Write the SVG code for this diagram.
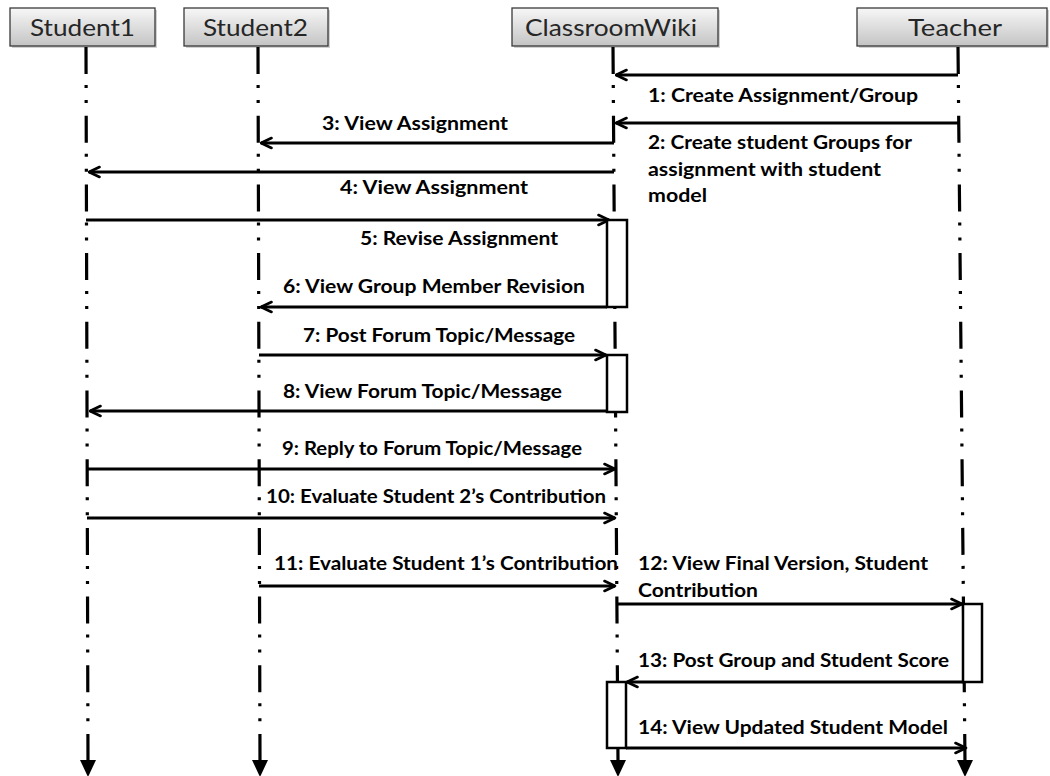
<svg xmlns="http://www.w3.org/2000/svg" width="1050" height="776" viewBox="0 0 1050 776">
<style>
.hdr{fill:url(#hg);stroke:#3a3a3a;stroke-width:1.3}
.shd{fill:#000;opacity:0.18}
.htx{font-family:Lato,"Liberation Sans",sans-serif;font-size:24px;fill:#262626}
.life{stroke:#000;stroke-width:3.2;fill:none;stroke-dasharray:27 11 3 12 3 12.7}
.end{fill:#000}
.msg{stroke:#000;stroke-width:3;fill:none;marker-end:url(#ah)}
.lbl{font-family:Lato,"Liberation Sans",sans-serif;font-size:18.5px;font-weight:bold;fill:#000}
.act{fill:#fff;stroke:#000;stroke-width:2.5}
</style>
<defs>
<linearGradient id="hg" x1="0" y1="0" x2="0" y2="1">
<stop offset="0" stop-color="#f7f7f7"/>
<stop offset="1" stop-color="#c4c4c4"/>
</linearGradient>
<marker id="ah" viewBox="0 0 14 14" refX="12.5" refY="7" markerWidth="14" markerHeight="14" markerUnits="userSpaceOnUse" orient="auto">
<path d="M2,2 L12.5,7 L2,12" fill="none" stroke="#000" stroke-width="2.6" stroke-linecap="round" stroke-linejoin="round"/>
</marker>
</defs>
<rect width="1050" height="776" fill="#fff"/>

<g id="student1">
<rect class="shd" x="12" y="10" width="145" height="38"/>
<rect class="hdr" x="10" y="8" width="145" height="38"/>
<text class="htx" x="30" y="36" textLength="105" lengthAdjust="spacingAndGlyphs">Student1</text>
<line class="life" x1="86" y1="47" x2="88" y2="762"/>
<polygon class="end" points="80,760 96,760 88,777"/>
</g>
<g id="student2">
<rect class="shd" x="186" y="10" width="144" height="38"/>
<rect class="hdr" x="184" y="8" width="144" height="38"/>
<text class="htx" x="203" y="36" textLength="105" lengthAdjust="spacingAndGlyphs">Student2</text>
<line class="life" x1="258" y1="47" x2="260" y2="762"/>
<polygon class="end" points="252,760 268,760 260,777"/>
</g>
<g id="classroomwiki">
<rect class="shd" x="514" y="10" width="206" height="38"/>
<rect class="hdr" x="512" y="8" width="206" height="38"/>
<text class="htx" x="525" y="36" textLength="172" lengthAdjust="spacingAndGlyphs">ClassroomWiki</text>
<line class="life" x1="613" y1="47" x2="618" y2="762"/>
<polygon class="end" points="610,760 626,760 618,777"/>
</g>
<g id="teacher">
<rect class="shd" x="859" y="10" width="190" height="38"/>
<rect class="hdr" x="857" y="8" width="190" height="38"/>
<text class="htx" x="908" y="36" textLength="94" lengthAdjust="spacingAndGlyphs">Teacher</text>
<line class="life" x1="958" y1="47" x2="965" y2="762"/>
<polygon class="end" points="957,760 973,760 965,777"/>
</g>

<g id="connectors">
<line class="msg" x1="958" y1="75" x2="616" y2="75"/>
<text class="lbl" x="648" y="102" textLength="270" lengthAdjust="spacingAndGlyphs">1: Create Assignment/Group</text>
<line class="msg" x1="959" y1="123" x2="616" y2="123"/>
<text class="lbl" x="648" y="149" textLength="264" lengthAdjust="spacingAndGlyphs">2: Create student Groups for</text>
<text class="lbl" x="648" y="176" textLength="233" lengthAdjust="spacingAndGlyphs">assignment with student</text>
<text class="lbl" x="648" y="202" textLength="59" lengthAdjust="spacingAndGlyphs">model</text>
<line class="msg" x1="614" y1="143" x2="261" y2="143"/>
<text class="lbl" x="322" y="130" textLength="186" lengthAdjust="spacingAndGlyphs">3: View Assignment</text>
<line class="msg" x1="614" y1="172" x2="89" y2="172"/>
<text class="lbl" x="340" y="194" textLength="188" lengthAdjust="spacingAndGlyphs">4: View Assignment</text>
<line class="msg" x1="86" y1="220" x2="609" y2="220"/>
<text class="lbl" x="360" y="245" textLength="198" lengthAdjust="spacingAndGlyphs">5: Revise Assignment</text>
<line class="msg" x1="607" y1="307" x2="261" y2="307"/>
<text class="lbl" x="283" y="293" textLength="302" lengthAdjust="spacingAndGlyphs">6: View Group Member Revision</text>
<line class="msg" x1="259" y1="355" x2="606" y2="355"/>
<text class="lbl" x="303" y="342" textLength="272" lengthAdjust="spacingAndGlyphs">7: Post Forum Topic/Message</text>
<line class="msg" x1="607" y1="411" x2="90" y2="411"/>
<text class="lbl" x="283" y="398" textLength="279" lengthAdjust="spacingAndGlyphs">8: View Forum Topic/Message</text>
<line class="msg" x1="87" y1="469" x2="615" y2="469"/>
<text class="lbl" x="282" y="455" textLength="300" lengthAdjust="spacingAndGlyphs">9: Reply to Forum Topic/Message</text>
<line class="msg" x1="87" y1="518" x2="615" y2="518"/>
<text class="lbl" x="266" y="503" textLength="340" lengthAdjust="spacingAndGlyphs">10: Evaluate Student 2’s Contribution</text>
<line class="msg" x1="259" y1="586" x2="615" y2="586"/>
<text class="lbl" x="274" y="570" textLength="344" lengthAdjust="spacingAndGlyphs">11: Evaluate Student 1’s Contribution</text>
<line class="msg" x1="617" y1="604" x2="962" y2="604"/>
<text class="lbl" x="638" y="570" textLength="290" lengthAdjust="spacingAndGlyphs">12: View Final Version, Student</text>
<text class="lbl" x="638" y="597" textLength="120" lengthAdjust="spacingAndGlyphs">Contribution</text>
<line class="msg" x1="963" y1="682" x2="627" y2="682"/>
<text class="lbl" x="638" y="667" textLength="311" lengthAdjust="spacingAndGlyphs">13: Post Group and Student Score</text>
<line class="msg" x1="626" y1="748" x2="966" y2="748"/>
<text class="lbl" x="638" y="734" textLength="310" lengthAdjust="spacingAndGlyphs">14: View Updated Student Model</text>
</g>

<g id="activation-wiki-1"><rect class="act" x="607" y="220" width="20" height="87"/></g>
<g id="activation-wiki-2"><rect class="act" x="607" y="355" width="20" height="57"/></g>
<g id="activation-teacher"><rect class="act" x="963" y="604" width="19" height="78"/></g>
<g id="activation-wiki-3"><rect class="act" x="607" y="682" width="19" height="66"/></g>
</svg>
